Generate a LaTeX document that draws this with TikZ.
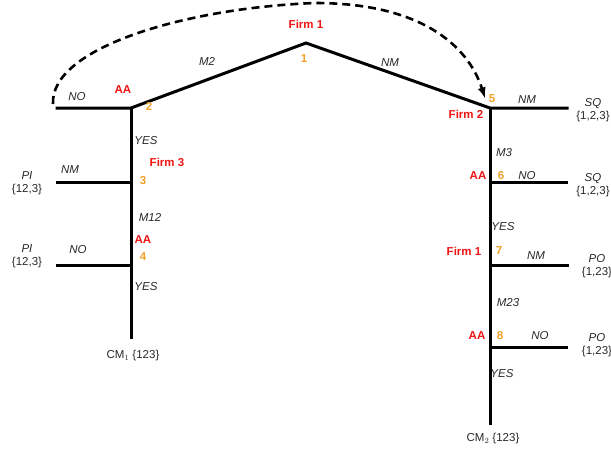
\documentclass[tikz,border=0pt]{standalone}
\usepackage{fontspec}
\setmainfont{Liberation Sans}
\usepackage{tikz}
\usetikzlibrary{calc}
\usetikzlibrary{arrows}
\usetikzlibrary{positioning}
\usepackage{color}
\definecolor{firmred}{RGB}{240, 20, 20}
\definecolor{numorange}{RGB}{240, 160, 40}
\definecolor{inkgray}{RGB}{40, 40, 40}
\tikzset{
    branch/.style={line width=3pt, line cap=rect},
    move/.style={inkgray, font=\fontsize{11.5}{13.5}\selectfont\itshape, inner sep=0pt},
    firm/.style={firmred, font=\fontsize{11.5}{13.5}\selectfont\bfseries, inner sep=0pt},
    num/.style={numorange, font=\fontsize{11.5}{13.5}\selectfont\bfseries, inner sep=0pt},
    payoff/.style={inkgray, font=\fontsize{11.5}{13.5}\selectfont, inner sep=0pt, align=center}
}

\begin{document}
\begin{tikzpicture}[x=1pt, y=-1pt]
            \useasboundingbox (0,0) rectangle (611,453);
            \coordinate (n1)  at (306, 43);
            \coordinate (n2)  at (131,108);  \coordinate (n2L) at ( 57,108);
            \coordinate (n3)  at (131,182);  \coordinate (n3L) at ( 57,182);
            \coordinate (n4)  at (131,265);  \coordinate (n4L) at ( 57,265);
            \coordinate (cm1) at (131,337);
            \coordinate (n5)  at (490,108);  \coordinate (n5R) at (567,108);
            \coordinate (n6)  at (490,182);  \coordinate (n6R) at (566,182);
            \coordinate (n7)  at (490,265);  \coordinate (n7R) at (567,265);
            \coordinate (n8)  at (490,347);  \coordinate (n8R) at (566,347);
            \coordinate (cm2) at (490,423);
            \coordinate (jumpA) at ( 53,104);
            \coordinate (jumpB) at (485, 98);

            \draw[branch] (n2L) -- (n2) -- (n1) -- (n5) -- (n5R);
            \draw[branch] (n2) -- (cm1);
            \draw[branch] (n3) -- (n3L);
            \draw[branch] (n4) -- (n4L);
            \draw[branch] (n5) -- (cm2);
            \draw[branch] (n6) -- (n6R);
            \draw[branch] (n7) -- (n7R);
            \draw[branch] (n8) -- (n8R);
            \draw[line width=2.6pt, dash pattern=on 8pt off 5pt, -latex]
                 (jumpA) .. controls (50,48) and (185,8) .. (315,3)
                         .. controls (420,3) and (468,45) .. (jumpB);

            \node[firm]   (f1a) at (306, 24) {Firm 1};
            \node[num]    (k1)  at (304, 59) {1};
            \node[move]   (m2)  at (207, 61) {M2};
            \node[move]   (nm1) at (390, 63) {NM};
            \node[firm]   (aa2) at (123, 90) {AA};
            \node[num]    (k2)  at (149,106) {2};
            \node[move]   (no2) at ( 77, 97) {NO};
            \node[move]   (ye2) at (146,141) {YES};
            \node[firm]   (f3)  at (167,162) {Firm 3};
            \node[num]    (k3)  at (143,181) {3};
            \node[move]   (nm3) at ( 70,170) {NM};
            \node[payoff] (pi3) at ( 27,183) {\textit{PI}\\\{12,3\}};
            \node[move]   (m12) at (150,217) {M12};
            \node[firm]   (aa4) at (143,240) {AA};
            \node[num]    (k4)  at (143,257) {4};
            \node[move]   (no4) at ( 78,250) {NO};
            \node[payoff] (pi4) at ( 27,256) {\textit{PI}\\\{12,3\}};
            \node[move]   (ye4) at (146,287) {YES};
            \node[payoff] (o1)  at (133,356) {CM$_1$ \{123\}};

            \node[num]    (k5)  at (492, 99) {5};
            \node[firm]   (f2)  at (466,114) {Firm 2};
            \node[move]   (nm5) at (527,100) {NM};
            \node[payoff] (sq5) at (593,110) {\textit{SQ}\\\{1,2,3\}};
            \node[move]   (m3)  at (504,153) {M3};
            \node[firm]   (aa6) at (478,176) {AA};
            \node[num]    (k6)  at (501,176) {6};
            \node[move]   (no6) at (527,176) {NO};
            \node[payoff] (sq6) at (593,185) {\textit{SQ}\\\{1,2,3\}};
            \node[move]   (ye6) at (503,227) {YES};
            \node[firm]   (f1b) at (464,251) {Firm 1};
            \node[num]    (k7)  at (499,251) {7};
            \node[move]   (nm7) at (536,256) {NM};
            \node[payoff] (po7) at (597,266) {\textit{PO}\\\{1,23\}};
            \node[move]   (m23) at (508,303) {M23};
            \node[firm]   (aa8) at (477,336) {AA};
            \node[num]    (k8)  at (500,336) {8};
            \node[move]   (no8) at (540,336) {NO};
            \node[payoff] (po8) at (597,345) {\textit{PO}\\\{1,23\}};
            \node[move]   (ye8) at (502,374) {YES};
            \node[payoff] (o2)  at (493,439) {CM$_2$ \{123\}};
        \end{tikzpicture}
\end{document}
